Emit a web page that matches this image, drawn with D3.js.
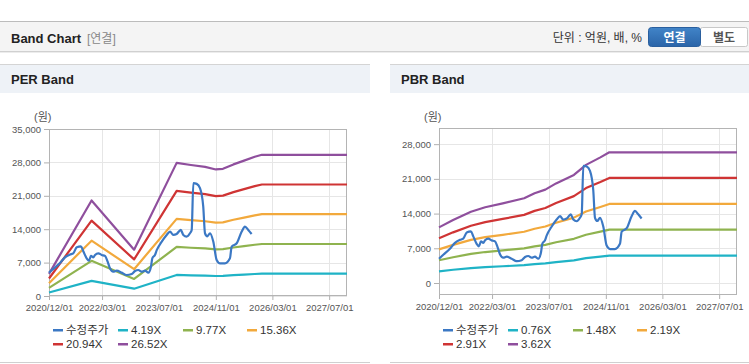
<!DOCTYPE html>
<html>
<head>
<meta charset="utf-8">
<script src="https://cdn.jsdelivr.net/npm/d3@7"></script>
<style>
  body { margin: 0; background: #fff; }
  svg { display: block; font-family: "Liberation Sans", "Noto Sans CJK KR", sans-serif; }
</style>
</head>
<body>
<div id="chart"></div>
<script>
// Price (수정주가), shared by both charts
const priceDates = ["2020-12-01","2021-01-07","2021-03-05","2021-04-17","2021-05-30","2021-06-27","2021-07-27","2021-09-01","2021-09-21","2021-10-20","2021-11-09","2021-11-26","2021-12-16","2021-12-31","2022-01-28","2022-02-26","2022-03-26","2022-04-18","2022-05-08","2022-06-05","2022-07-05","2022-08-16","2022-09-28","2022-11-10","2022-12-09","2023-01-06","2023-02-04","2023-03-04","2023-04-02","2023-04-25","2023-05-06","2023-05-29","2023-06-13","2023-07-26","2023-09-06","2023-10-05","2023-11-02","2023-12-01","2024-01-05","2024-01-27","2024-02-25","2024-03-24","2024-04-08","2024-04-22","2024-05-21","2024-06-18","2024-07-16","2024-07-31","2024-08-20","2024-09-12","2024-10-10","2024-11-08","2024-12-07","2025-01-18","2025-03-02","2025-03-17","2025-04-29","2025-06-11","2025-07-09","2025-08-06","2025-09-04"];
const priceValues = [4900,5700,6900,8100,8700,8950,10200,10400,9400,7900,7400,8400,8100,8600,8950,8600,8400,7200,5800,5100,5300,4900,4400,4600,5250,5450,5100,5300,4900,6200,7900,8600,9600,11400,12800,13500,12800,13000,13850,12800,12450,13150,13850,23650,23500,22600,18750,13150,12500,13150,11400,7550,6850,6850,7900,10350,11050,13500,14550,13850,13000];

// PER band
const perDates = ["2020-12-01","2021-12-01","2022-12-01","2023-12-01","2024-04-01","2024-08-01","2024-11-01","2025-01-01","2025-04-01","2025-07-01","2025-10-01","2025-12-01","2027-12-01"];
const perLabels = ["4.19X","9.77X","15.36X","20.94X","26.52X"];
const per419  = [733,3163,1534,4408,4337,4274,4190,4211,4358,4483,4609,4676,4676];
const per977  = [1710,7376,3576,10278,10112,9965,9770,9819,10161,10454,10747,10903,10903];
const per1536 = [2688,11597,5622,16159,15898,15667,15360,15437,15974,16435,16896,17142,17142];
const per2094 = [3665,15810,7664,22029,21673,21359,20940,21045,21778,22406,23034,23369,23369];
const per2652 = [4641,20023,9706,27899,27448,27050,26520,26653,27581,28376,29172,29596,29596];

// PBR band
const pbrDates = ["2020-12-01","2021-04-01","2021-09-01","2022-01-01","2022-06-01","2022-12-01","2023-03-01","2023-06-01","2023-09-01","2024-02-01","2024-05-15","2024-09-15","2024-12-01","2027-12-01"];
const pbrLabels = ["0.76X","1.48X","2.19X","2.91X","3.62X"];
const pbr076 = [2356,2668,3017,3207,3374,3587,3800,3952,4218,4575,5001,5320,5533,5533];
const pbr148 = [4588,5195,5876,6246,6571,6986,7400,7696,8214,8910,9738,10360,10774,10774];
const pbr219 = [6789,7687,8694,9242,9724,10337,10950,11388,12155,13184,14410,15330,15943,15943];
const pbr291 = [9021,10214,11553,12280,12920,13735,14550,15132,16151,17518,19148,20370,21185,21185];
const pbr362 = [11222,12706,14371,15276,16073,17086,18100,18824,20091,21792,23820,25340,26354,26354];

const xTickLabels = ["2020/12/01","2022/03/01","2023/07/01","2024/11/01","2026/03/01","2027/07/01"];
const perYTicks = [0,7000,14000,21000,28000,35000];
const pbrYTicks = [0,7000,14000,21000,28000];

const colors = ["#3b78c4","#1fb3c6","#8fb34f","#f2a93c","#cf3434","#8f4f9d"];
const parse = d3.timeParse("%Y-%m-%d");
const fmt = d3.format(",");

const W = 749, H = 364;
const svg = d3.select("#chart").append("svg").attr("width", W).attr("height", H);

// Header bar
svg.append("rect").attr("x", 0).attr("y", 21).attr("width", W).attr("height", 31).attr("fill", "#f4f4f4");
svg.append("line").attr("x1", 0).attr("x2", W).attr("y1", 21.5).attr("y2", 21.5).attr("stroke", "#bcbcbc");
svg.append("line").attr("x1", 0).attr("x2", W).attr("y1", 51.5).attr("y2", 51.5).attr("stroke", "#d0d0d0");
svg.append("line").attr("x1", 0).attr("x2", W).attr("y1", 52.5).attr("y2", 52.5).attr("stroke", "#ececec");
svg.append("text").attr("x", 11).attr("y", 43).attr("font-size", 13).attr("font-weight", "bold")
  .attr("fill", "#222").text("Band Chart");
svg.append("text").attr("x", 87).attr("y", 43).attr("font-size", 12).attr("fill", "#888").text("[연결]");
svg.append("text").attr("x", 642).attr("y", 42).attr("text-anchor", "end").attr("font-size", 12)
  .attr("fill", "#333").text("단위 : 억원, 배, %");

const grad = svg.append("defs").append("linearGradient").attr("id", "btn").attr("x1", 0).attr("x2", 0).attr("y1", 0).attr("y2", 1);
grad.append("stop").attr("offset", 0).attr("stop-color", "#4184c8");
grad.append("stop").attr("offset", 1).attr("stop-color", "#2a64a8");
svg.append("rect").attr("x", 700.5).attr("y", 27.5).attr("width", 47).attr("height", 19).attr("rx", 2)
  .attr("fill", "#fff").attr("stroke", "#c8c8c8");
svg.append("rect").attr("x", 648.5).attr("y", 27.5).attr("width", 52).attr("height", 19).attr("rx", 3)
  .attr("fill", "url(#btn)").attr("stroke", "#2a5f9e");
svg.append("text").attr("x", 674.5).attr("y", 42).attr("text-anchor", "middle").attr("font-size", 12)
  .attr("font-weight", "bold").attr("fill", "#fff").text("연결");
svg.append("text").attr("x", 724).attr("y", 42).attr("text-anchor", "middle").attr("font-size", 12)
  .attr("font-weight", "bold").attr("fill", "#555").text("별도");

function drawPanel(opt) {
  const ox = opt.ox;
  const g = svg.append("g");

  // title band
  g.append("rect").attr("x", ox).attr("y", 64).attr("width", opt.width).attr("height", 29).attr("fill", "#eef2f7");
  g.append("line").attr("x1", ox).attr("x2", ox + opt.width).attr("y1", 64.5).attr("y2", 64.5).attr("stroke", "#d4d4d4");
  g.append("line").attr("x1", ox).attr("x2", ox + opt.width).attr("y1", 362.5).attr("y2", 362.5).attr("stroke", "#d0d0d0");
  g.append("text").attr("x", ox + 11).attr("y", 84).attr("font-size", 13).attr("font-weight", "bold")
    .attr("fill", "#222").text(opt.title);

  const left = ox + 49, right = ox + 347;
  const x = d3.scaleTime().domain([parse("2020-12-01"), parse("2027-12-01")]).range([left, right]);
  const y = d3.scaleLinear().domain(opt.yDomain).range([opt.bottom, opt.top]);
  const xTicks = xTickLabels.map(d => d3.timeParse("%Y/%m/%d")(d));

  // grid
  g.append("g").selectAll("line").data(opt.yTicks).join("line")
    .attr("x1", left).attr("x2", right)
    .attr("y1", d => Math.round(y(d)) + 0.5).attr("y2", d => Math.round(y(d)) + 0.5)
    .attr("stroke", "#e6e6e6");
  g.append("g").selectAll("line").data(xTicks).join("line")
    .attr("x1", d => Math.round(x(d)) + 0.5).attr("x2", d => Math.round(x(d)) + 0.5)
    .attr("y1", opt.top).attr("y2", opt.bottom)
    .attr("stroke", "#e6e6e6");

  // axes
  const yAxis = g.append("g").attr("transform", `translate(${left},0)`)
    .call(d3.axisLeft(y).tickValues(opt.yTicks).tickFormat(fmt).tickSize(5).tickPadding(3));
  const xAxis = g.append("g").attr("transform", `translate(0,${opt.bottom})`)
    .call(d3.axisBottom(x).tickValues(xTicks).tickFormat(d3.timeFormat("%Y/%m/%d")).tickSize(4).tickPadding(4));
  [yAxis, xAxis].forEach(a => {
    a.select(".domain").remove();
    a.selectAll(".tick line").attr("stroke", "#b0b0b0");
    a.selectAll(".tick text").attr("fill", "#555").attr("font-size", 9.5)
      .attr("font-family", "'Liberation Sans', sans-serif");
  });

  // plot border
  g.append("rect").attr("x", left + 0.5).attr("y", opt.top + 0.5)
    .attr("width", right - left - 1).attr("height", opt.bottom - opt.top - 1)
    .attr("fill", "none").attr("stroke", "#b4b4b4");

  g.append("text").attr("x", ox + 34).attr("y", 121).attr("font-size", 11).attr("fill", "#555").text("(원)");

  const line = d3.line().x(d => x(d[0])).y(d => y(d[1]));
  const bandDates = opt.bandDates.map(parse);

  opt.bands.forEach((vals, i) => {
    g.append("path").datum(bandDates.map((d, j) => [d, vals[j]]))
      .attr("d", line).attr("fill", "none")
      .attr("stroke", colors[i + 1]).attr("stroke-width", 2.2).attr("stroke-linejoin", "round");
  });
  g.append("path").datum(priceDates.map((d, j) => [parse(d), priceValues[j]]))
    .attr("d", line.curve(d3.curveMonotoneX)).attr("fill", "none")
    .attr("stroke", colors[0]).attr("stroke-width", 2.2).attr("stroke-linejoin", "round");

  // legend
  const names = ["수정주가"].concat(opt.labels);
  const cols = [53, 118, 183, 247];
  const leg = g.append("g").selectAll("g").data(names).join("g")
    .attr("transform", (d, i) => `translate(${ox + cols[i % 4]},${i < 4 ? 330 : 344})`);
  leg.append("rect").attr("x", 0).attr("y", -1).attr("width", 10).attr("height", 2.5)
    .attr("fill", (d, i) => colors[i]);
  leg.append("text").attr("x", 13).attr("y", 4).attr("font-size", 11.5).attr("fill", "#333").text(d => d);
}

drawPanel({
  ox: 0, width: 370, title: "PER Band", top: 129, bottom: 296,
  yDomain: [0, 35000], yTicks: perYTicks, bandDates: perDates,
  bands: [per419, per977, per1536, per2094, per2652], labels: perLabels
});
drawPanel({
  ox: 390, width: 359, title: "PBR Band", top: 128, bottom: 295,
  yDomain: [-2420, 31260], yTicks: pbrYTicks, bandDates: pbrDates,
  bands: [pbr076, pbr148, pbr219, pbr291, pbr362], labels: pbrLabels
});
</script>
</body>
</html>
